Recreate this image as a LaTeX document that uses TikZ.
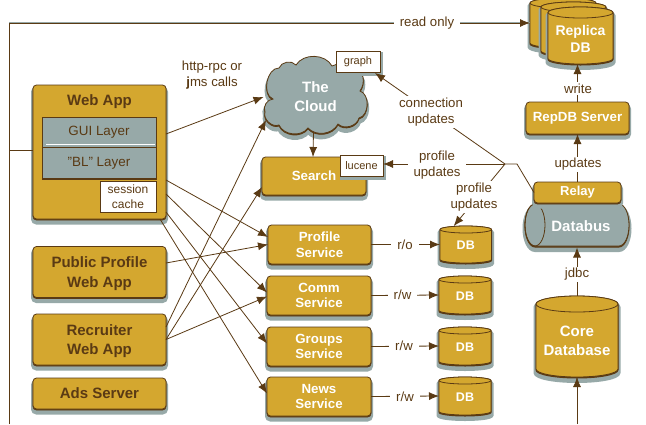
\documentclass[tikz,border=0pt]{standalone}
\usepackage{fontspec}
\setmainfont{Liberation Sans}
\usetikzlibrary{arrows.meta}
\definecolor{gold}{HTML}{D4A72F}
\definecolor{slate}{HTML}{97A9A8}
\definecolor{umber}{HTML}{5A3A14}
\newcommand{\fs}[2]{\fontsize{#1}{#2}\selectfont}
\tikzset{
  wh/.style 2 args={minimum width=#1pt,minimum height=#2pt},
  shadowed/.style={preaction={draw=slate,fill=slate,line width=4pt,transform canvas={yshift=-3.5pt}},
    preaction={draw=umber,fill=umber,transform canvas={yshift=-1pt}}},
  gbox/.style={shape=rectangle,rounded corners=3.5pt,draw=umber,fill=gold,line width=.8pt,inner sep=0pt,outer sep=0pt,align=center,shadowed},
  darktxt/.style={text=umber,font=\bfseries\fs{15}{19.5},text depth=0pt},
  servicetxt/.style={text=white,font=\bfseries\fs{13.3}{15.5}},
  lightbig/.style={text=white,font=\bfseries\fs{15}{19}},
  plain/.style={shape=rectangle,inner sep=0pt,outer sep=0pt,align=center},
  layer/.style={plain,draw=umber,fill=slate,line width=.8pt,text=umber,font=\fs{13.4}{15}},
  tag/.style={plain,draw=umber,fill=white,line width=.8pt,text=umber,font=\fs{11}{15}},
  elabel/.style={plain,fill=white,text=umber,font=\fs{13.2}{16},inner ysep=1.5pt,inner xsep=6pt},
  wire/.style={draw=umber,line width=.8pt},
  arrow/.style={wire,-{Latex[length=10pt,width=8pt]}},
  cylface/.style={draw=umber,fill=gold,line width=.8pt},
}
% name, x1, x2, top, bottom, ry, text style, text, text offset
\newcommand{\cyl}[9]{%
  \pgfmathsetmacro{\cxx}{(#2+#3)/2}\pgfmathsetmacro{\crx}{(#3-#2)/2}%
  \pgfmathsetmacro{\cyt}{#4+#6}\pgfmathsetmacro{\cyb}{#5-#6}\pgfmathsetmacro{\cym}{(#4+#5)/2}%
  \pgfmathsetmacro{\cyo}{\cym+#9}%
  \def\cylpath{(#2,\cyt) -- (#2,\cyb) arc[start angle=180,end angle=360,x radius=\crx pt,y radius=#6pt] -- (#3,\cyt) arc[start angle=0,end angle=180,x radius=\crx pt,y radius=#6pt] -- cycle}%
  \path[draw=slate,fill=slate,line width=5pt,transform canvas={yshift=-3.5pt}] \cylpath;%
  \path[draw=umber,fill=umber,line width=1pt,transform canvas={yshift=-1pt}] \cylpath;%
  \path[cylface] \cylpath;%
  \draw[cylface] (\cxx,\cyt) ellipse[x radius=\crx pt,y radius=#6pt];%
  \node[plain,minimum width=\crx pt*2,minimum height=#5pt-#4pt] (#1) at (\cxx,\cym) {};%
  \node[plain,#7] (#1text) at (\cxx,\cyo) {#8};%
}
\begin{document}
\begin{tikzpicture}[x=1pt,y=-1pt]
\useasboundingbox (0,0) rectangle (646,424);
\fill[white] (0,0) rectangle (646,424);

% left-hand boxes
\node[gbox,wh={133}{134}] (webapp) at (99.5,152) {};
\node[plain,darktxt] (webapptitle) at (99.5,100) {Web App};
\node[layer,wh={114}{31}] (gui) at (99,132.5) {GUI Layer};
\node[layer,wh={114}{31},preaction={draw=umber,transform canvas={yshift=-1pt}}] (bl) at (99,163) {"BL" Layer};
\draw[white,line width=.8pt] (46,144.5) -- (155,144.5);
\node[tag,wh={56}{31},font=\fs{12}{14.5}] (cache) at (128,196.5) {session\\cache};
\node[gbox,wh={133}{51},darktxt] (public) at (99.5,272) {Public Profile\\Web App};
\node[gbox,wh={133}{51},darktxt] (recruiter) at (99.5,339.5) {Recruiter\\Web App};
\node[gbox,wh={133}{31},darktxt] (ads) at (99.5,393.5) {Ads Server};

% cloud
\def\cloudpath{(273,99) to[bend left=80] (279,68) to[bend left=60] (296,65) to[bend left=60] (332,66) to[bend left=45] (363,77) to[bend left=20] (360,91) to[bend left=75] (359,118) to[bend left=60] (338,124) to[bend left=55] (308,128) to[bend left=60] (279,125) to[bend left=65] (265,112) to[bend left=55] cycle}
\path[draw=slate,fill=slate,line width=4pt,transform canvas={yshift=-4pt}] \cloudpath;
\path[draw=umber,fill=umber,line width=.8pt,transform canvas={yshift=-1pt}] \cloudpath;
\path[draw=umber,fill=slate,line width=.8pt] \cloudpath;
\node[plain,lightbig,wh={105}{73}] (cloud) at (315.5,96.5) {The\\Cloud};
\node[tag,wh={44}{21},preaction={draw=slate,fill=slate,line width=3pt,transform canvas={xshift=1pt,yshift=-2pt}}] (graph) at (358,62) {graph};

% search and services
\node[gbox,wh={104}{38},servicetxt] (search) at (314,176) {Search};
\node[tag,wh={43}{21},preaction={draw=slate,fill=slate,line width=3pt,transform canvas={xshift=1pt,yshift=-2pt}}] (lucene) at (361.5,165.5) {lucene};
\node[gbox,wh={103}{39},servicetxt] (profile) at (319.5,244.5) {Profile\\Service};
\node[gbox,wh={104}{39},servicetxt] (comm) at (319,295.5) {Comm\\Service};
\node[gbox,wh={104}{39},servicetxt] (groups) at (319,346.5) {Groups\\Service};
\node[gbox,wh={104}{39},servicetxt] (news) at (319,396.5) {News\\Service};

% service databases
\tikzset{dbtxt/.style={text=white,font=\bfseries\fs{12.5}{15}}}
\cyl{dba}{440}{491.5}{226}{263}{3.5}{dbtxt}{DB}{1}
\cyl{dbb}{439}{491}{276}{314}{3.5}{dbtxt}{DB}{1}
\cyl{dbc}{439}{491}{327}{365}{3.5}{dbtxt}{DB}{1}
\cyl{dbd}{439}{491}{377}{415}{3.5}{dbtxt}{DB}{1}

% right column
\cyl{core}{536}{618}{296}{377}{8}{lightbig}{Core\\Database}{4.5}
\def\buspath{(535,204) -- (619,204) arc[start angle=90,end angle=-90,x radius=10pt,y radius=21pt] -- (535,246) arc[start angle=270,end angle=90,x radius=10pt,y radius=21pt] -- cycle}
\path[draw=slate,fill=slate,line width=5pt,transform canvas={yshift=-3.5pt}] \buspath;
\path[draw=umber,fill=umber,line width=1pt,transform canvas={yshift=-1pt}] \buspath;
\path[draw=umber,fill=slate,line width=.8pt] \buspath;
\draw[draw=umber,line width=.8pt] (535,225) ellipse[x radius=10pt,y radius=21pt];
\node[plain,lightbig,wh={104}{43}] (databus) at (581,226) {Databus};
\node[gbox,wh={87}{21},servicetxt,font=\bfseries\fs{13}{15}] (relay) at (577.5,192.5) {Relay};
\node[gbox,wh={103}{32},servicetxt] (repdb) at (577.5,118) {RepDB Server};
\cyl{replicaback}{530}{596}{-2}{48}{5}{dbtxt}{}{0}
\cyl{replicamid}{541}{606}{2}{56}{5}{dbtxt}{}{0}
\cyl{replica}{548}{613}{7}{64}{5.5}{text=white,font=\bfseries\fs{14}{17.5}}{Replica\\DB}{3.5}

% frame and replica link
\coordinate (framebottom) at (9,424);
\coordinate (framecorner) at (9,23);
\coordinate (framejoin) at (9,150.5);
\coordinate (replicain) at (530,23);
\draw[slate,line width=.8pt] (9,22) -- (530,22);
\draw[wire] (framebottom) -- (framecorner);
\draw[arrow] (framecorner) -- (replicain);
\draw[wire] (framejoin) -- (webapp.west |- framejoin);

% web tier calls
\draw[arrow] ([shift={(0,-18)}]webapp.east) -- ([shift={(0.5,0.5)}]cloud.west);
\draw[arrow] ([shift={(0,28)}]webapp.east) -- ([shift={(0,-7.5)}]profile.west);
\draw[arrow] ([shift={(0,42)}]webapp.east) -- ([shift={(0,-3)}]comm.west);
\draw[arrow] ([shift={(0,60)}]webapp.east) -- ([shift={(0,-3)}]groups.west);
\draw[arrow] ([shift={(-6,67)}]webapp.east) -- ([shift={(0,-3)}]news.west);
\draw[arrow] ([shift={(0,-9)}]public.east) -- ([shift={(0,0)}]profile.west);
\draw[arrow] ([shift={(0,-12.5)}]recruiter.east) -- ([shift={(3,23.5)}]cloud.west);
\draw[arrow] ([shift={(0,0)}]recruiter.east) -- ([shift={(0,11)}]search.west);
\draw[arrow] ([shift={(0,0)}]recruiter.east) -- ([shift={(0,1)}]comm.west);

% vertical and service links
\draw[arrow] ([shift={(-2,35.5)}]cloud.center) -- ([shift={(-1,0)}]search.north);
\draw[arrow] (profile.east) -- (dba.west);
\draw[arrow] (comm.east) -- (dbb.west);
\draw[arrow] (groups.east) -- (dbc.west);
\draw[arrow] (news.east) -- (dbd.west);
\draw[arrow] (repdb.north) -- (replica.south -| repdb.north);
\draw[arrow] (relay.north) -- (repdb.south);
\draw[arrow] (core.north) -- (databus.south -| core.north);
\coordinate (corefeed) at (577,424);
\draw[arrow] (corefeed) -- (core.south);

% updates fan-out
\coordinate (junction) at (505,164);
\coordinate (elbow) at (517,164);
\draw[wire] (relay.west) -- (elbow) -- (junction);
\draw[arrow] (junction) -- ([shift={(17,0.5)}]graph.south);
\draw[arrow] (junction) -- (lucene.east |- junction);
\draw[arrow] (junction) -- ([shift={(-12,0)}]dba.north);

% connector labels
\node[elabel] (readlabel) at (427,23) {read only};
\node[elabel,fill=none] (rpclabel) at (212,75) {http-rpc or\\{\bfseries j}ms calls};
\node[elabel] (connlabel) at (431,112) {connection\\updates};
\node[elabel] (proflabela) at (437,165) {profile\\updates};
\node[elabel,inner xsep=1pt] (proflabelb) at (474,197) {profile\\updates};
\node[elabel,inner xsep=1pt] (writelabel) at (578,88.5) {write};
\node[elabel,inner xsep=1pt] (updlabel) at (578,164.5) {updates};
\node[elabel,inner xsep=1pt] (jdbclabel) at (577,274.5) {jdbc};
\node[elabel] (rolabel) at (405,244.5) {r/o};
\node[elabel] (rwa) at (402.5,295) {r/w};
\node[elabel] (rwb) at (404,346) {r/w};
\node[elabel] (rwc) at (405,396.5) {r/w};
\end{tikzpicture}
\end{document}
